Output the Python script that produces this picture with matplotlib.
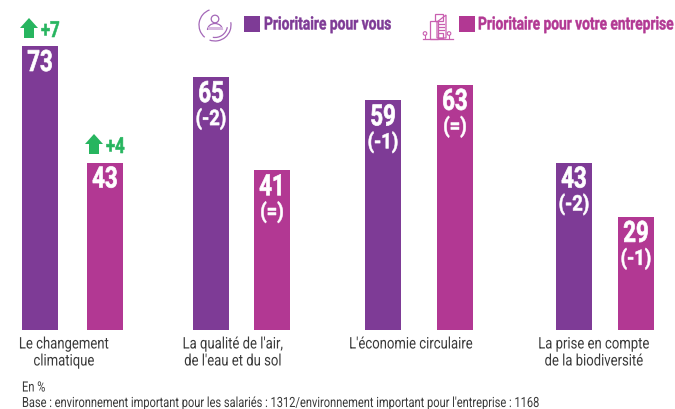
import matplotlib
matplotlib.use("Agg")
import matplotlib.pyplot as plt
from matplotlib.patches import Polygon, Rectangle, Circle, Arc
from matplotlib.lines import Line2D
from matplotlib.patheffects import AbstractPathEffect
from matplotlib.transforms import Affine2D

FONT = ['Roboto', 'DejaVu Sans']

categories = ["Le changement\nclimatique", "La qualité de l'air,\nde l'eau et du sol",
              "L'économie circulaire", "La prise en compte\nde la biodiversité"]
vous = [73, 65, 59, 43]
entreprise = [43, 41, 63, 29]
vous_delta = ["", "(-2)", "(-1)", "(-2)"]
entreprise_delta = ["", "(=)", "(=)", "(-1)"]
gains = ["+7", "+4"]
series_names = ["Prioritaire pour vous", "Prioritaire pour votre entreprise"]
note_unit = "En %"
note_base = "Base : environnement important pour les salariés : 1312/environnement important pour l'entreprise : 1168"

PURPLE = '#7e3b96'
PINK = '#b23893'
GREEN = '#27b55f'
GREY = '#3a3a3a'
x_v = [40, 211, 383, 574]
x_e = [105, 272, 455, 636]
label_x = [64, 233, 411, 594]

fig = plt.figure(figsize=(6.75, 4.09), dpi=100)
W, H = 675, 409
BASE = 329.5
SPAN = 283.5
ax = fig.add_axes([0, (H - BASE) / H, 1, SPAN / H])
ax.set_xlim(0, W)
ax.set_ylim(0, 73)
ax.axis('off')

ov = fig.add_axes([0, 0, 1, 1], zorder=5)
ov.set_xlim(0, W)
ov.set_ylim(H, 0)
ov.axis('off')

ax.bar(x_v, vous, width=36, color=PURPLE)
ax.bar(x_e, entreprise, width=36, color=PINK)


class Tall(AbstractPathEffect):
    """Makes the glyphs taller than their nominal size, with an optional embolden."""
    def __init__(self, sy, stroke=0.0):
        super().__init__()
        self.sy, self.stroke = sy, stroke

    def draw_path(self, renderer, gc, tpath, affine, rgbFace=None):
        gc0 = renderer.new_gc()
        gc0.copy_properties(gc)
        if self.stroke and rgbFace is not None:
            gc0.set_linewidth(self.stroke)
            gc0.set_foreground(rgbFace[:3])
        renderer.draw_path(gc0, tpath, Affine2D().scale(1, self.sy) + affine, rgbFace)
        gc0.restore()


def ctext(x, baseline, s, size, sy, stroke=0.0, **kw):
    t = ov.text(x, baseline, s, family=FONT, va='baseline', fontsize=size, **kw)
    t.set_path_effects([Tall(sy, stroke)])
    return t


def bar_text(xs, vals, deltas):
    for x, v, d in zip(xs, vals, deltas):
        top = BASE - v * SPAN / 73
        ctext(x, top + 25, str(v), 16, 1.32, 0.5, color='white', fontweight='bold', ha='center')
        if d:
            ctext(x, top + 48, d, 13.3, 1.16, 0.4, color='white', fontweight='bold', ha='center')


bar_text(x_v, vous, vous_delta)
bar_text(x_e, entreprise, entreprise_delta)


def gain(xa, ya, txt):
    pts = [(xa, ya), (xa + 9, ya + 10), (xa + 5, ya + 10), (xa + 5, ya + 20),
           (xa - 5, ya + 20), (xa - 5, ya + 10), (xa - 9, ya + 10)]
    ov.add_patch(Polygon(pts, closed=True, color=GREEN, lw=0))
    ctext(xa + 12, ya + 19, txt, 12, 1.33, 0.4, color=GREEN, fontweight='bold', ha='left')


gain(29, 18, gains[0])
gain(94, 134, gains[1])

for x, lab in zip(label_x, categories):
    ctext(x, 365.5 if '\n' in lab else 348.5, lab, 9.43, 1.22, color=GREY,
          ha='center', linespacing=1.4)

ctext(22, 391.5, note_unit, 8.0, 1.27, color=GREY, ha='left')
ctext(22, 407, note_base, 7.97, 1.27, color=GREY, ha='left')

# legend
ov.add_patch(Rectangle((244, 16), 16, 16, color=PURPLE, lw=0))
ctext(264, 29.5, series_names[0], 9.95, 1.3, 0.3, color=PURPLE, fontweight='bold', ha='left')
ov.add_patch(Rectangle((459, 16), 16, 16, color=PINK, lw=0))
ctext(478, 29.5, series_names[1], 9.9, 1.3, 0.3, color=PINK, fontweight='bold', ha='left')

# person icon
IC1 = '#a468b8'
ov.add_patch(Circle((215, 19), 3.8, fill=False, ec=IC1, lw=0.9))
ov.add_patch(Arc((215, 30), 15, 13, theta1=180, theta2=360, ec=IC1, lw=0.9))
ov.add_patch(Rectangle((207.5, 27), 15, 3, color='#d7b9e0', lw=0))
ov.add_patch(Arc((215, 25), 32, 32, theta1=-10, theta2=110, ec=IC1, lw=0.9))
ov.add_patch(Arc((215, 25), 32, 32, theta1=130, theta2=250, ec=IC1, lw=0.9))
ov.add_patch(Arc((215, 25), 25, 25, theta1=10, theta2=100, ec=IC1, lw=0.9))

# building icon
IC2 = '#c95fb0'
ov.add_line(Line2D([423, 453], [38.5, 38.5], color=IC2, lw=0.9))
ov.add_patch(Rectangle((430, 21), 8, 17.5, fill=False, ec=IC2, lw=0.9))
ov.add_patch(Rectangle((435, 14), 8, 7, fill=False, ec=IC2, lw=0.9))
ov.add_patch(Polygon([(437, 38), (437, 22), (446, 15), (446, 38)], closed=True, fill=False, ec=IC2, lw=0.9))
for yy in (24, 27, 30):
    ov.add_line(Line2D([439, 444], [yy, yy], color=IC2, lw=0.9))
ov.add_patch(Rectangle((438, 33), 5, 5, fill=False, ec=IC2, lw=0.9))
for xc in (425, 449):
    ov.add_patch(Circle((xc, 33.5), 1.8, fill=False, ec=IC2, lw=0.8))
    ov.add_line(Line2D([xc, xc], [35, 38], color=IC2, lw=0.8))

fig.savefig('out.png', dpi=100, facecolor='white')
